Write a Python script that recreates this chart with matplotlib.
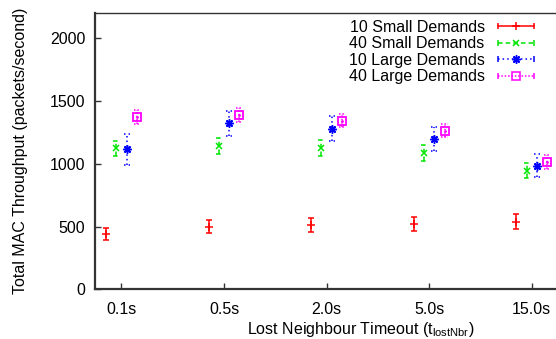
import numpy as np
import matplotlib.pyplot as plt
from matplotlib.lines import Line2D
from matplotlib.legend_handler import HandlerLine2D, HandlerTuple

plt.rcParams['font.family'] = ['Liberation Sans', 'DejaVu Sans']
plt.rcParams['mathtext.fontset'] = 'custom'
plt.rcParams['mathtext.rm'] = 'Liberation Sans'
plt.rcParams['mathtext.it'] = 'Liberation Sans'

# throughput per timeout setting: mean and half-width of the error bar
timeouts = ['0.1s', '0.5s', '2.0s', '5.0s', '15.0s']
small10 = [442, 499, 512, 520, 538]
small10_err = [46, 53, 55, 55, 60]
small40 = [1123, 1140, 1125, 1087, 945]
small40_err = [62, 63, 65, 66, 61]
large10 = [1117, 1325, 1281, 1196, 985]
large10_err = [123, 100, 102, 97, 90]
large40 = [1376, 1387, 1345, 1264, 1014]
large40_err = [56, 55, 54, 50, 56]

series = [
    ('10 Small Demands', small10, small10_err, '#ff0000', '-', '+', 6),
    ('40 Small Demands', small40, small40_err, '#00e600', (0, (3, 2)), 'x', 5),
    ('10 Large Demands', large10, large10_err, '#0000ff', (0, (1, 2)), (8, 2, 0), 6),
    ('40 Large Demands', large40, large40_err, '#ff00ff', (0, (1, 1.2)), 's', 6),
]
offsets = [-0.15, -0.05, 0.05, 0.15]
cap = 0.03

fig = plt.figure(figsize=(5.56, 3.39), dpi=100)
ax = fig.add_axes([95 / 556, (339 - 289.3) / 339, (557 - 95) / 556, 276 / 339])

x = np.arange(1, len(timeouts) + 1)
handles = []
hmap = {tuple: HandlerTuple(ndivide=1, pad=0)}
for (name, vals, errs, col, ls, mk, ms), off in zip(series, offsets):
    xs = x + off
    v = np.array(vals, float)
    e = np.array(errs, float)
    ax.vlines(xs, v - e, v + e, colors=col, linestyles=ls, lw=1.1)
    ax.hlines(np.r_[v - e, v + e], np.r_[xs, xs] - cap, np.r_[xs, xs] + cap,
              colors=col, linestyles=ls, lw=1.1)
    if mk == 's':
        ax.plot(xs, v, ls='none', marker='s', ms=ms, mfc='none', mec=col, mew=1.3)
        ax.plot(xs, v, ls='none', marker='.', ms=2, color=col)
    else:
        ax.plot(xs, v, ls='none', marker=mk, ms=ms, color=col, mew=1.1)

    ends = Line2D([], [], color=col, ls=ls, lw=1.1, marker='|', ms=5, mew=1.1)
    mid = Line2D([], [], ls='none', marker=mk, ms=ms, color=col,
                 mfc='none' if mk == 's' else col, mew=1.1)
    hmap[ends] = HandlerLine2D(numpoints=2)
    hmap[mid] = HandlerLine2D(numpoints=1)
    handles.append(((ends, mid), name))

ax.set_xlim(1 - 26.5 / 102.7, 5 + 25.3 / 102.7)
ax.set_ylim(0, 2200)
ax.set_xticks(x)
ax.set_xticklabels(timeouts)
ax.set_yticks([0, 500, 1000, 1500, 2000])

fs = 11.5
ax.tick_params(direction='in', length=4, width=1.0, labelsize=fs, color='#333333')
ax.tick_params(axis='y', pad=7)
ax.tick_params(axis='x', pad=9)
ax.spines['right'].set_visible(False)
for s in ('left', 'bottom'):
    ax.spines[s].set_linewidth(1.6)
    ax.spines[s].set_color('#333333')
ax.spines['top'].set_linewidth(1.0)
ax.spines['top'].set_color('#333333')

ax.set_ylabel('Total MAC Throughput (packets/second)', fontsize=fs)
ax.yaxis.set_label_coords((28 - 95) / 462, 0.5)
ax.set_xlabel(r'Lost Neighbour Timeout (t$_{\mathrm{lostNbr}}$)', fontsize=fs)
ax.xaxis.set_label_coords((361 - 95) / 462, -0.112)

leg = ax.legend([h for h, _ in handles], [n for _, n in handles], handler_map=hmap,
                loc='upper right', bbox_to_anchor=(539 / 556, 1 - 20 / 339),
                bbox_transform=fig.transFigure, frameon=False, markerfirst=False,
                fontsize=fs, handlelength=2.85, handletextpad=0.55,
                labelspacing=0.09, borderpad=0, borderaxespad=0)
for t in leg.get_texts():
    t.set_ha('right')

fig.savefig('out.png', dpi=100)
